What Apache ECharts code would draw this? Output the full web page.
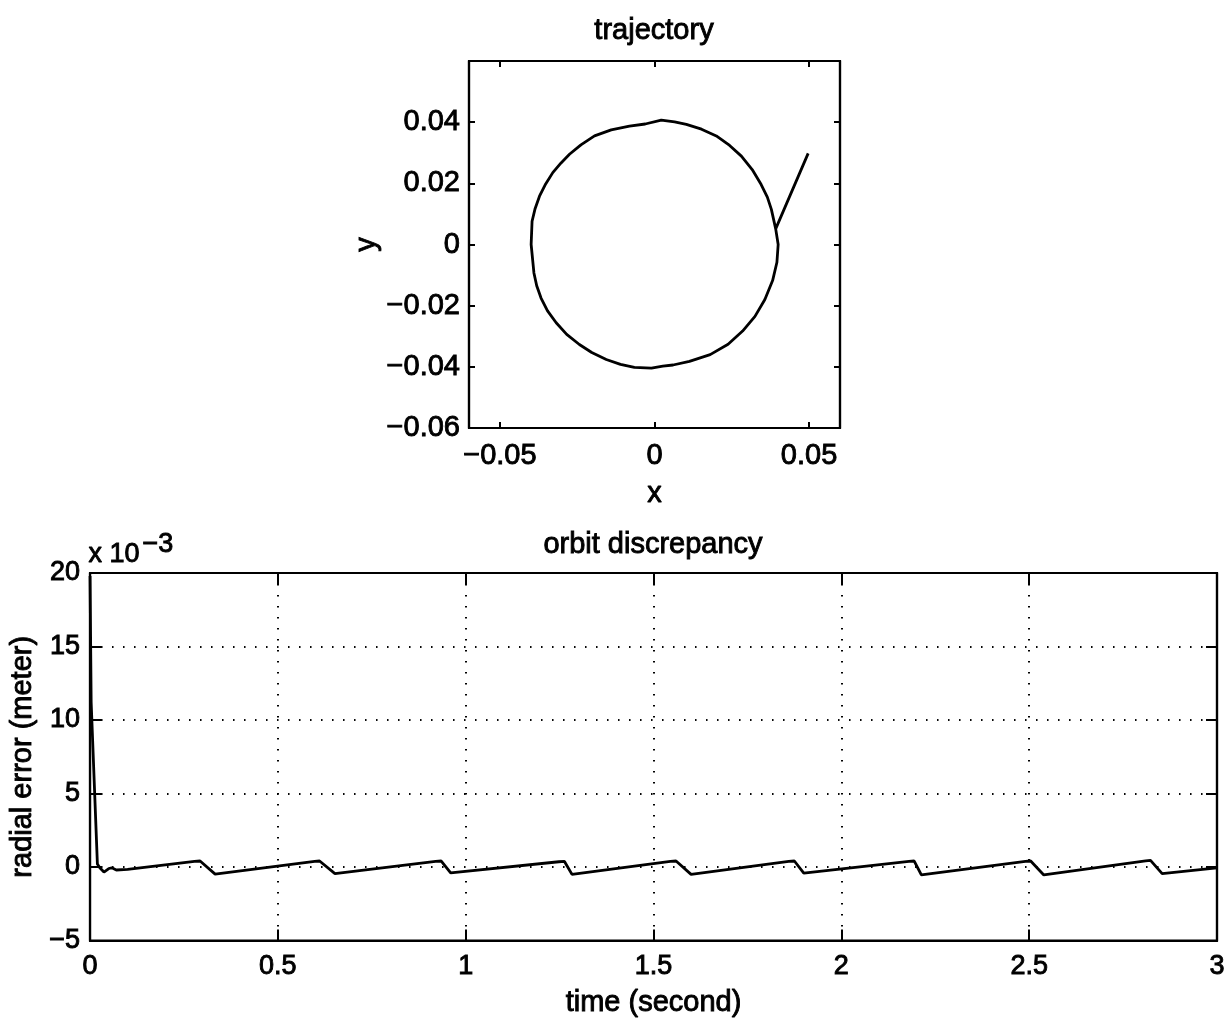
<!DOCTYPE html>
<html>
<head>
<meta charset="utf-8">
<script src="https://cdn.jsdelivr.net/npm/echarts@6/dist/echarts.min.js"></script>
<style>
html,body{margin:0;padding:0;background:#fff;}
#chart{width:1230px;height:1019px;}
</style>
</head>
<body>
<div id="chart"></div>
<script>
// ---- trajectory (top plot) ----
const trajX = [0.0497, 0.0392, 0.0400, 0.0396, 0.0382, 0.0357, 0.0325, 0.0285, 0.0238, 0.0180, 0.0113, 0.0060, 0.0027, -0.0010,
  -0.0065, -0.0110, -0.0156, -0.0203, -0.0243, -0.0284, -0.0318, -0.0346, -0.0367, -0.0381, -0.0390, -0.0399,
  -0.0396, -0.0386, -0.0372, -0.0352, -0.0329, -0.0303, -0.0275, -0.0238, -0.0194, -0.0140, -0.0081, -0.0030, 0.0022,
  0.0065, 0.0103, 0.0152, 0.0200, 0.0243, 0.0281, 0.0316, 0.0345, 0.0365, 0.0378, 0.0392];
const trajY = [0.0298, 0.0051, 0.0000, -0.0058, -0.0118, -0.0180, -0.0235, -0.0283, -0.0326, -0.0360, -0.0382, -0.0394, -0.0398, -0.0404,
  -0.0402, -0.0392, -0.0376, -0.0353, -0.0327, -0.0294, -0.0256, -0.0217, -0.0175, -0.0135, -0.0093, 0.0000,
  0.0076, 0.0118, 0.0158, 0.0198, 0.0235, 0.0266, 0.0295, 0.0326, 0.0355, 0.0375, 0.0387, 0.0394, 0.0407,
  0.0401, 0.0393, 0.0377, 0.0355, 0.0324, 0.0289, 0.0245, 0.0196, 0.0155, 0.0115, 0.0051];
const trajXTicks = [-0.05, 0, 0.05];
const trajYTicks = [-0.06, -0.04, -0.02, 0, 0.02, 0.04];

// ---- orbit discrepancy (bottom plot), radial error in units of 1e-3 m ----
const timeS = [0, 0.003, 0.0196, 0.026, 0.037, 0.05, 0.058, 0.07, 0.1,
  0.278, 0.293, 0.333, 0.598, 0.611, 0.652, 0.92, 0.935, 0.96, 1.248, 1.263, 1.283,
  1.545, 1.56, 1.6, 1.86, 1.875, 1.9, 2.18, 2.194, 2.213, 2.49, 2.504, 2.539,
  2.81, 2.823, 2.854, 3.0];
const errorE3 = [19.8, 11.2, 0.2, -0.05, -0.34, -0.1, -0.05, -0.2, -0.16,
  0.38, 0.41, -0.48, 0.38, 0.41, -0.45, 0.38, 0.41, -0.4, 0.36, 0.38, -0.5,
  0.38, 0.41, -0.5, 0.38, 0.41, -0.42, 0.38, 0.41, -0.54, 0.38, 0.41, -0.54,
  0.42, 0.45, -0.45, -0.05];
const timeTicks = [0, 0.5, 1, 1.5, 2, 2.5, 3];
const errTicks = [-5, 0, 5, 10, 15, 20];

const FONT = 'Liberation Sans';
const minus = s => String(s).replace('-', '\u2212');
const fmt2 = v => Math.abs(v) < 1e-9 ? '0' : minus((Math.round(v * 100) / 100).toFixed(2));
const fmtPlain = v => minus(String(Math.round(v * 1000) / 1000));

const chart = echarts.init(document.getElementById('chart'));
const lbl = (size) => ({ color: '#000', fontFamily: FONT, fontSize: size, textBorderColor: '#000', textBorderWidth: 0.9 });

const g0 = { left: 469, top: 61, width: 371, height: 367 };
const g1 = { left: 88, top: 573, right: 13, bottom: 77 };
const axisLine = { onZero: false, lineStyle: { color: '#000', width: 2.2 } };
const tick = (len) => ({ inside: true, length: len, lineStyle: { color: '#000', width: 2 } });
const dotted = { show: true, lineStyle: { color: '#000', width: 2, type: [1.5, 9.5] } };

const option = {
  backgroundColor: '#fff',
  animation: false,
  title: [
    { text: 'trajectory', left: 654, top: 16, textAlign: 'center', padding: 0,
      textStyle: Object.assign(lbl(29), { fontWeight: 'normal' }) },
    { text: 'orbit discrepancy', left: 653, top: 530, textAlign: 'center', padding: 0,
      textStyle: Object.assign(lbl(29), { fontWeight: 'normal' }) }
  ],
  graphic: [
    { type: 'text', left: 88, top: 541, style: { text: 'x 10', font: '27px "Liberation Sans"', fill: '#000', stroke: '#000', lineWidth: 0.9 } },
    { type: 'text', left: 142, top: 531, style: { text: '\u22123', font: '27px "Liberation Sans"', fill: '#000', stroke: '#000', lineWidth: 0.9 } }
  ],
  grid: [
    Object.assign({ show: true, borderColor: '#000', borderWidth: 2.2, backgroundColor: 'transparent' }, g0),
    Object.assign({ show: true, borderColor: '#000', borderWidth: 2.2, backgroundColor: 'transparent' }, g1)
  ],
  xAxis: [
    { type: 'value', gridIndex: 0, min: -0.06, max: 0.06, position: 'bottom',
      name: 'x', nameLocation: 'middle', nameGap: 51, nameTextStyle: lbl(29),
      axisLine: axisLine,
      axisTick: Object.assign(tick(6), { customValues: trajXTicks }),
      axisLabel: { customValues: trajXTicks, formatter: fmt2, margin: 13, ...lbl(29) },
      splitLine: { show: false } },
    { type: 'value', gridIndex: 0, min: -0.06, max: 0.06, position: 'top',
      axisLine: axisLine,
      axisTick: Object.assign(tick(6), { customValues: trajXTicks }),
      axisLabel: { show: false }, splitLine: { show: false } },
    { type: 'value', gridIndex: 1, min: 0, max: 3, interval: 0.5, position: 'bottom',
      name: 'time (second)', nameLocation: 'middle', nameGap: 48, nameTextStyle: lbl(29),
      axisLine: axisLine, axisTick: tick(11),
      axisLabel: { customValues: timeTicks, formatter: fmtPlain, margin: 12, ...lbl(27) },
      splitLine: dotted },
    { type: 'value', gridIndex: 1, min: 0, max: 3, interval: 0.5, position: 'top',
      axisLine: axisLine, axisTick: tick(11),
      axisLabel: { show: false }, splitLine: { show: false } }
  ],
  yAxis: [
    { type: 'value', gridIndex: 0, min: -0.06, max: 0.06, interval: 0.02, position: 'left',
      name: 'y', nameLocation: 'middle', nameGap: 87, nameTextStyle: lbl(29),
      axisLine: axisLine, axisTick: tick(6),
      axisLabel: { customValues: trajYTicks, formatter: fmt2, margin: 9, ...lbl(29) },
      splitLine: { show: false } },
    { type: 'value', gridIndex: 0, min: -0.06, max: 0.06, interval: 0.02, position: 'right',
      axisLine: axisLine, axisTick: tick(6),
      axisLabel: { show: false }, splitLine: { show: false } },
    { type: 'value', gridIndex: 1, min: -5, max: 20, interval: 5, position: 'left',
      name: 'radial error (meter)', nameLocation: 'middle', nameGap: 48, nameTextStyle: lbl(29),
      axisLine: axisLine, axisTick: tick(11),
      axisLabel: { customValues: errTicks, formatter: fmtPlain, margin: 10, ...lbl(27) },
      splitLine: dotted },
    { type: 'value', gridIndex: 1, min: -5, max: 20, interval: 5, position: 'right',
      axisLine: axisLine, axisTick: tick(11),
      axisLabel: { show: false }, splitLine: { show: false } }
  ],
  series: [
    { type: 'line', xAxisIndex: 0, yAxisIndex: 0, showSymbol: false, symbol: 'none',
      data: trajX.map((x, i) => [x, trajY[i]]),
      lineStyle: { color: '#000', width: 2.8 }, z: 5 },
    { type: 'line', xAxisIndex: 2, yAxisIndex: 2, showSymbol: false, symbol: 'none',
      data: timeS.map((t, i) => [t, errorE3[i]]),
      lineStyle: { color: '#000', width: 2.8 }, z: 5 }
  ]
};
chart.setOption(option);
</script>
</body>
</html>
